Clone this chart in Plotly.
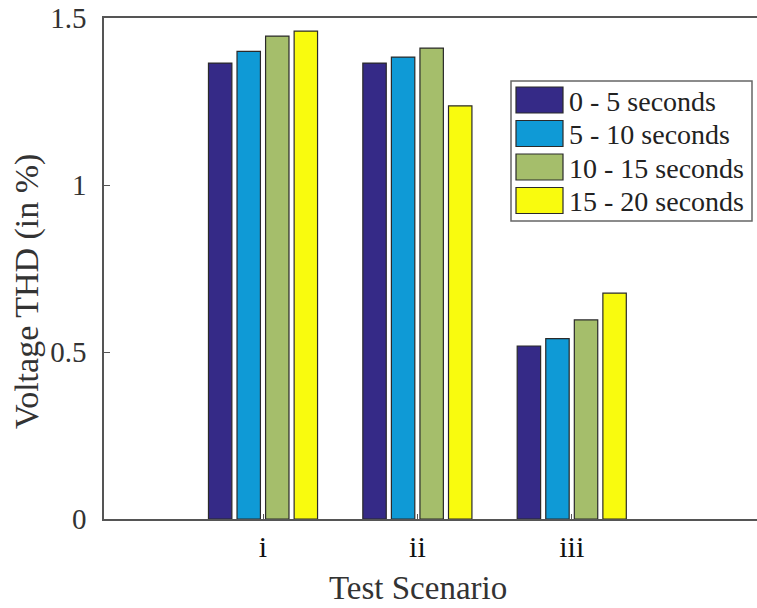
import plotly.graph_objects as go

categories = ["i", "ii", "iii"]
series_names = ["0 - 5 seconds", "5 - 10 seconds", "10 - 15 seconds", "15 - 20 seconds"]
s0_5 = [1.365, 1.365, 0.518]
s5_10 = [1.400, 1.383, 0.540]
s10_15 = [1.446, 1.410, 0.596]
s15_20 = [1.461, 1.237, 0.676]
colors = ["#352a87", "#0f9ad6", "#a5be6b", "#f9fb0e"]
y_ticks = [0, 0.5, 1, 1.5]
y_ticklabels = ["0", "0.5", "1", "1.5"]

W, H = 757, 608
L, T = 104, 18
B = H - 519
R = 0
pw, ph = W - L - R, H - T - B

def px(x):
    return (x - L) / pw

def py(y):
    return (H - B - y) / ph

FONT = "Times New Roman, Liberation Serif, serif"

fig = go.Figure()
for name, vals, col in zip(series_names, [s0_5, s5_10, s10_15, s15_20], colors):
    fig.add_trace(go.Bar(
        x=categories, y=vals, name=name,
        marker=dict(color=col, line=dict(color="#2a2a2a", width=1.2)),
        showlegend=False,
    ))

# custom legend (MATLAB-style large swatches)
shapes = [dict(type="rect", xref="paper", yref="paper",
               x0=px(511), x1=px(752), y0=py(221), y1=py(81),
               line=dict(color="#666666", width=1.5), fillcolor="white", layer="above")]
annotations = []
row_y = [100, 133.5, 167, 200.5]
for i, (name, col) in enumerate(zip(series_names, colors)):
    yc = row_y[i]
    shapes.append(dict(type="rect", xref="paper", yref="paper",
                       x0=px(516), x1=px(563), y0=py(yc + 13), y1=py(yc - 13),
                       line=dict(color="#2a2a2a", width=1.2), fillcolor=col, layer="above"))
    annotations.append(dict(xref="paper", yref="paper", x=px(567), y=py(yc + 1),
                            xanchor="left", yanchor="middle", text=name, showarrow=False,
                            font=dict(family=FONT, size=28, color="#222222")))

# axis titles
annotations.append(dict(xref="paper", yref="paper", x=px(27), y=py(292),
                        xanchor="center", yanchor="middle", textangle=-90,
                        text="Voltage THD (in %)", showarrow=False,
                        font=dict(family=FONT, size=34, color="#333333")))
annotations.append(dict(xref="paper", yref="paper", x=px(418), y=py(588),
                        xanchor="center", yanchor="middle",
                        text="Test Scenario", showarrow=False,
                        font=dict(family=FONT, size=33, color="#333333")))

fig.update_layout(
    width=W, height=H,
    margin=dict(l=L, r=R, t=T, b=B, pad=0),
    paper_bgcolor="white", plot_bgcolor="white",
    barmode="group", bargap=0.26, bargroupgap=0.18,
    font=dict(family=FONT, size=28, color="#222222"),
    shapes=shapes, annotations=annotations,
)
fig.update_xaxes(
    range=[-1.03, 3.2], showline=True, linecolor="#555555", linewidth=1.5, mirror=True,
    ticks="inside", ticklen=5, tickcolor="#555555", showgrid=False, zeroline=False,
    automargin=False,
    tickfont=dict(family=FONT, size=30, color="#111111"),
)
fig.update_yaxes(
    range=[0, 1.5], showline=True, linecolor="#555555", linewidth=1.5, mirror=False,
    ticks="inside", ticklen=6, tickcolor="#555555", showgrid=False, zeroline=False,
    automargin=False,
    tickvals=y_ticks, ticktext=y_ticklabels, ticklabelstandoff=10,
    ticklabeloverflow="allow",
    tickfont=dict(family=FONT, size=29, color="#333333"),
)

fig.write_html("out.html", config={"displayModeBar": False},
               post_script="document.body.style.margin='0';")
